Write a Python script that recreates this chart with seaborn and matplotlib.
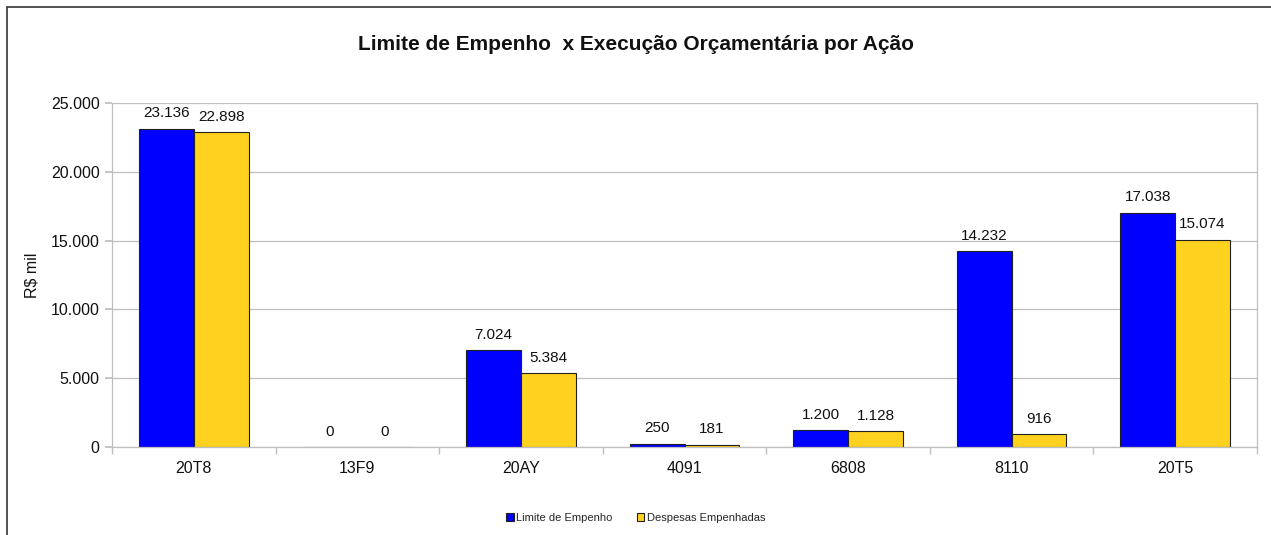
import matplotlib
matplotlib.use("Agg")
import matplotlib.pyplot as plt
import seaborn as sns
import pandas as pd
import numpy as np
from matplotlib.ticker import FuncFormatter, FixedLocator
from matplotlib.patches import Rectangle

categories = ["20T8", "13F9", "20AY", "4091", "6808", "8110", "20T5"]
limite = [23136, 0, 7024, 250, 1200, 14232, 17038]
despesas = [22898, 0, 5384, 181, 1128, 916, 15074]
series_names = ["Limite de Empenho", "Despesas Empenhadas"]
colors = ["#0000FF", "#FFD21F"]

sns.set_theme(style="white")
plt.rcParams['font.family'] = ['Liberation Sans', 'DejaVu Sans']

df = pd.DataFrame({
    "Ação": categories * 2,
    "Valor": limite + despesas,
    "Série": [series_names[0]] * len(categories) + [series_names[1]] * len(categories),
})

fig = plt.figure(figsize=(12.71, 5.35), dpi=100)
ax = fig.add_axes([112/1271, 1 - 447/535, (1257-112)/1271, (447-103)/535])

sns.barplot(data=df, x="Ação", y="Valor", hue="Série", palette=colors, saturation=1,
            width=0.67, edgecolor="#202020", linewidth=0.8, ax=ax, legend=True)

fmt = lambda v: f"{int(round(v)):,}".replace(",", ".")
for cont in ax.containers:
    ax.bar_label(cont, labels=[fmt(b.get_height()) for b in cont], padding=6, fontsize=11, color="#111111")

ax.set_ylim(0, 25000)
ax.set_xlim(-0.5, len(categories) - 0.5)
ax.yaxis.set_major_locator(FixedLocator([0, 5000, 10000, 15000, 20000, 25000]))
ax.yaxis.set_major_formatter(FuncFormatter(lambda v, p: fmt(v)))
ax.grid(axis="y", color="#BFBFBF", linewidth=0.9)
ax.set_axisbelow(True)
for s in ["left", "bottom", "right", "top"]:
    ax.spines[s].set_color("#BFBFBF")
    ax.spines[s].set_linewidth(0.9)
ax.spines["top"].set_visible(False)

ax.tick_params(axis="y", labelsize=11.5, length=5, color="#BFBFBF", left=True, pad=4, labelcolor="#111111")
ax.tick_params(axis="x", labelsize=11.5, length=0, pad=10, labelcolor="#111111")
ax.set_xticks(np.arange(-0.5, len(categories) + 0.5, 1), minor=True)
ax.tick_params(axis="x", which="minor", length=5, color="#BFBFBF", bottom=True)

ax.set_xlabel("")
ax.set_ylabel("R$ mil", fontsize=11.5, labelpad=8, color="#111111")

leg = ax.legend(loc="center", bbox_to_anchor=(0.5, (535-518)/535), bbox_transform=fig.transFigure,
                ncol=2, frameon=False, fontsize=8, handlelength=0.7, handleheight=0.7,
                handletextpad=0.2, columnspacing=2.2)

fig.text(0.5, 1 - 44/535, "Limite de Empenho  x Execução Orçamentária por Ação",
         ha="center", va="center", fontsize=15, fontweight="bold", color="#111111")

fig.patches.append(Rectangle((7/1271, -0.1), 1.2, 1 - 7/535 + 0.1, transform=fig.transFigure,
                             fill=False, edgecolor="#333333", linewidth=1.2))

fig.savefig("out.png", dpi=100, facecolor="white")
